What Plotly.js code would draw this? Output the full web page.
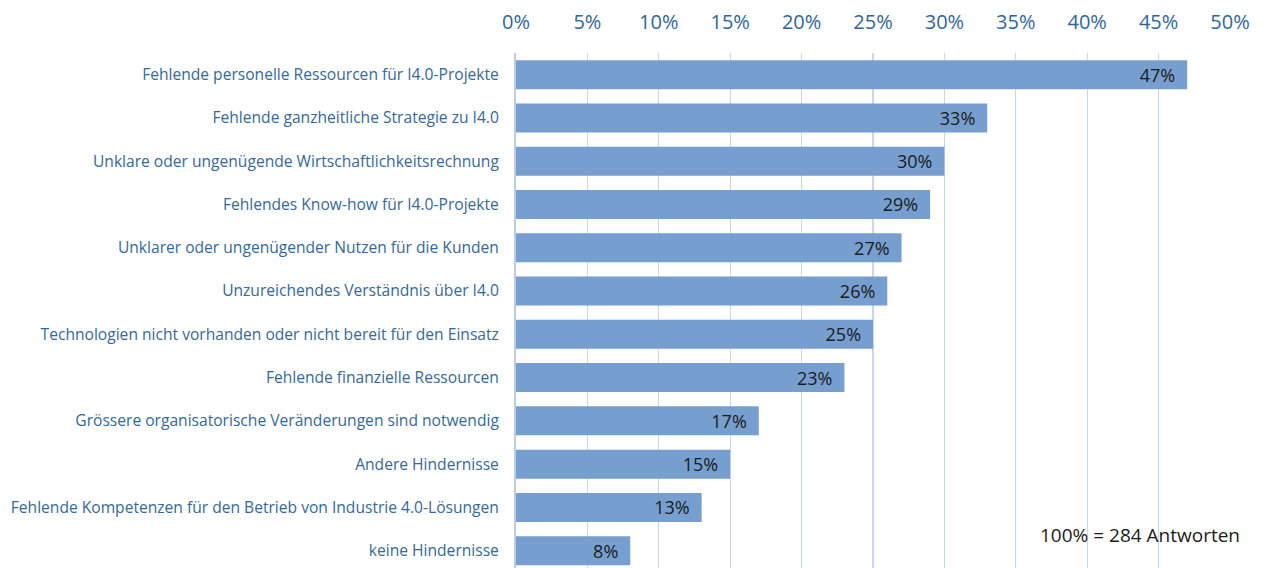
<!DOCTYPE html>
<html>
<head>
<meta charset="utf-8">
<script src="https://cdn.plot.ly/plotly-3.0.1.min.js"></script>
<style>html,body{margin:0;padding:0;background:#fff;}#chart{width:1264px;height:568px;}</style>
</head>
<body>
<div id="chart"></div>
<script>
const categories = [
  "Fehlende personelle Ressourcen für I4.0-Projekte",
  "Fehlende ganzheitliche Strategie zu I4.0",
  "Unklare oder ungenügende Wirtschaftlichkeitsrechnung",
  "Fehlendes Know-how für I4.0-Projekte",
  "Unklarer oder ungenügender Nutzen für die Kunden",
  "Unzureichendes Verständnis über I4.0",
  "Technologien nicht vorhanden oder nicht bereit für den Einsatz",
  "Fehlende finanzielle Ressourcen",
  "Grössere organisatorische Veränderungen sind notwendig",
  "Andere Hindernisse",
  "Fehlende Kompetenzen für den Betrieb von Industrie 4.0-Lösungen",
  "keine Hindernisse"
];
const values = [47, 33, 30, 29, 27, 26, 25, 23, 17, 15, 13, 8];
const tickVals = [0, 5, 10, 15, 20, 25, 30, 35, 40, 45, 50];
const tickText = ["0%", "5%", "10%", "15%", "20%", "25%", "30%", "35%", "40%", "45%", "50%"];
const noteText = "100% = 284 Antworten";

const FONT = "'Open Sans', 'Noto Sans', sans-serif";
const trace = {
  type: "bar",
  orientation: "h",
  y: categories,
  x: values,
  marker: {color: "#769FD0"},
  text: values.map(v => v + "%\u2009\u2009\u2009"),
  textposition: "inside",
  insidetextanchor: "end",
  textangle: 0,
  constraintext: "none",
  textfont: {family: FONT, size: 18, color: "#1b1b1b"},
  hoverinfo: "skip"
};
const layout = {
  width: 1264, height: 568,
  margin: {l: 516, r: 34, t: 53, b: 0, pad: 0},
  paper_bgcolor: "#fff", plot_bgcolor: "#fff",
  showlegend: false,
  bargap: 0.33,
  xaxis: {
    side: "top",
    range: [0, 50],
    tickvals: tickVals,
    ticktext: tickText,
    showgrid: true,
    gridcolor: "#C7D8EE",
    gridwidth: 1.3,
    zeroline: false,
    showline: false,
    ticks: "",
    ticklabelstandoff: 19,
    tickfont: {family: FONT, size: 20, color: "#2F6699"},
    fixedrange: true
  },
  yaxis: {
    type: "category",
    categoryorder: "array",
    categoryarray: categories,
    range: [11.4, -0.5],
    showgrid: false,
    zeroline: false,
    showline: true,
    linecolor: "#B9CDE6",
    linewidth: 2,
    ticks: "",
    ticklabelstandoff: 12,
    tickfont: {family: FONT, size: 15.6, color: "#33699B"},
    fixedrange: true
  },
  annotations: [{
    xref: "paper", yref: "paper",
    x: 1.017, y: 0.065,
    xanchor: "right", yanchor: "middle",
    text: noteText,
    showarrow: false,
    font: {family: FONT, size: 19, color: "#1b1b1b"}
  }]
};
Plotly.newPlot("chart", [trace], layout, {displayModeBar: false, staticPlot: true});
</script>
</body>
</html>
